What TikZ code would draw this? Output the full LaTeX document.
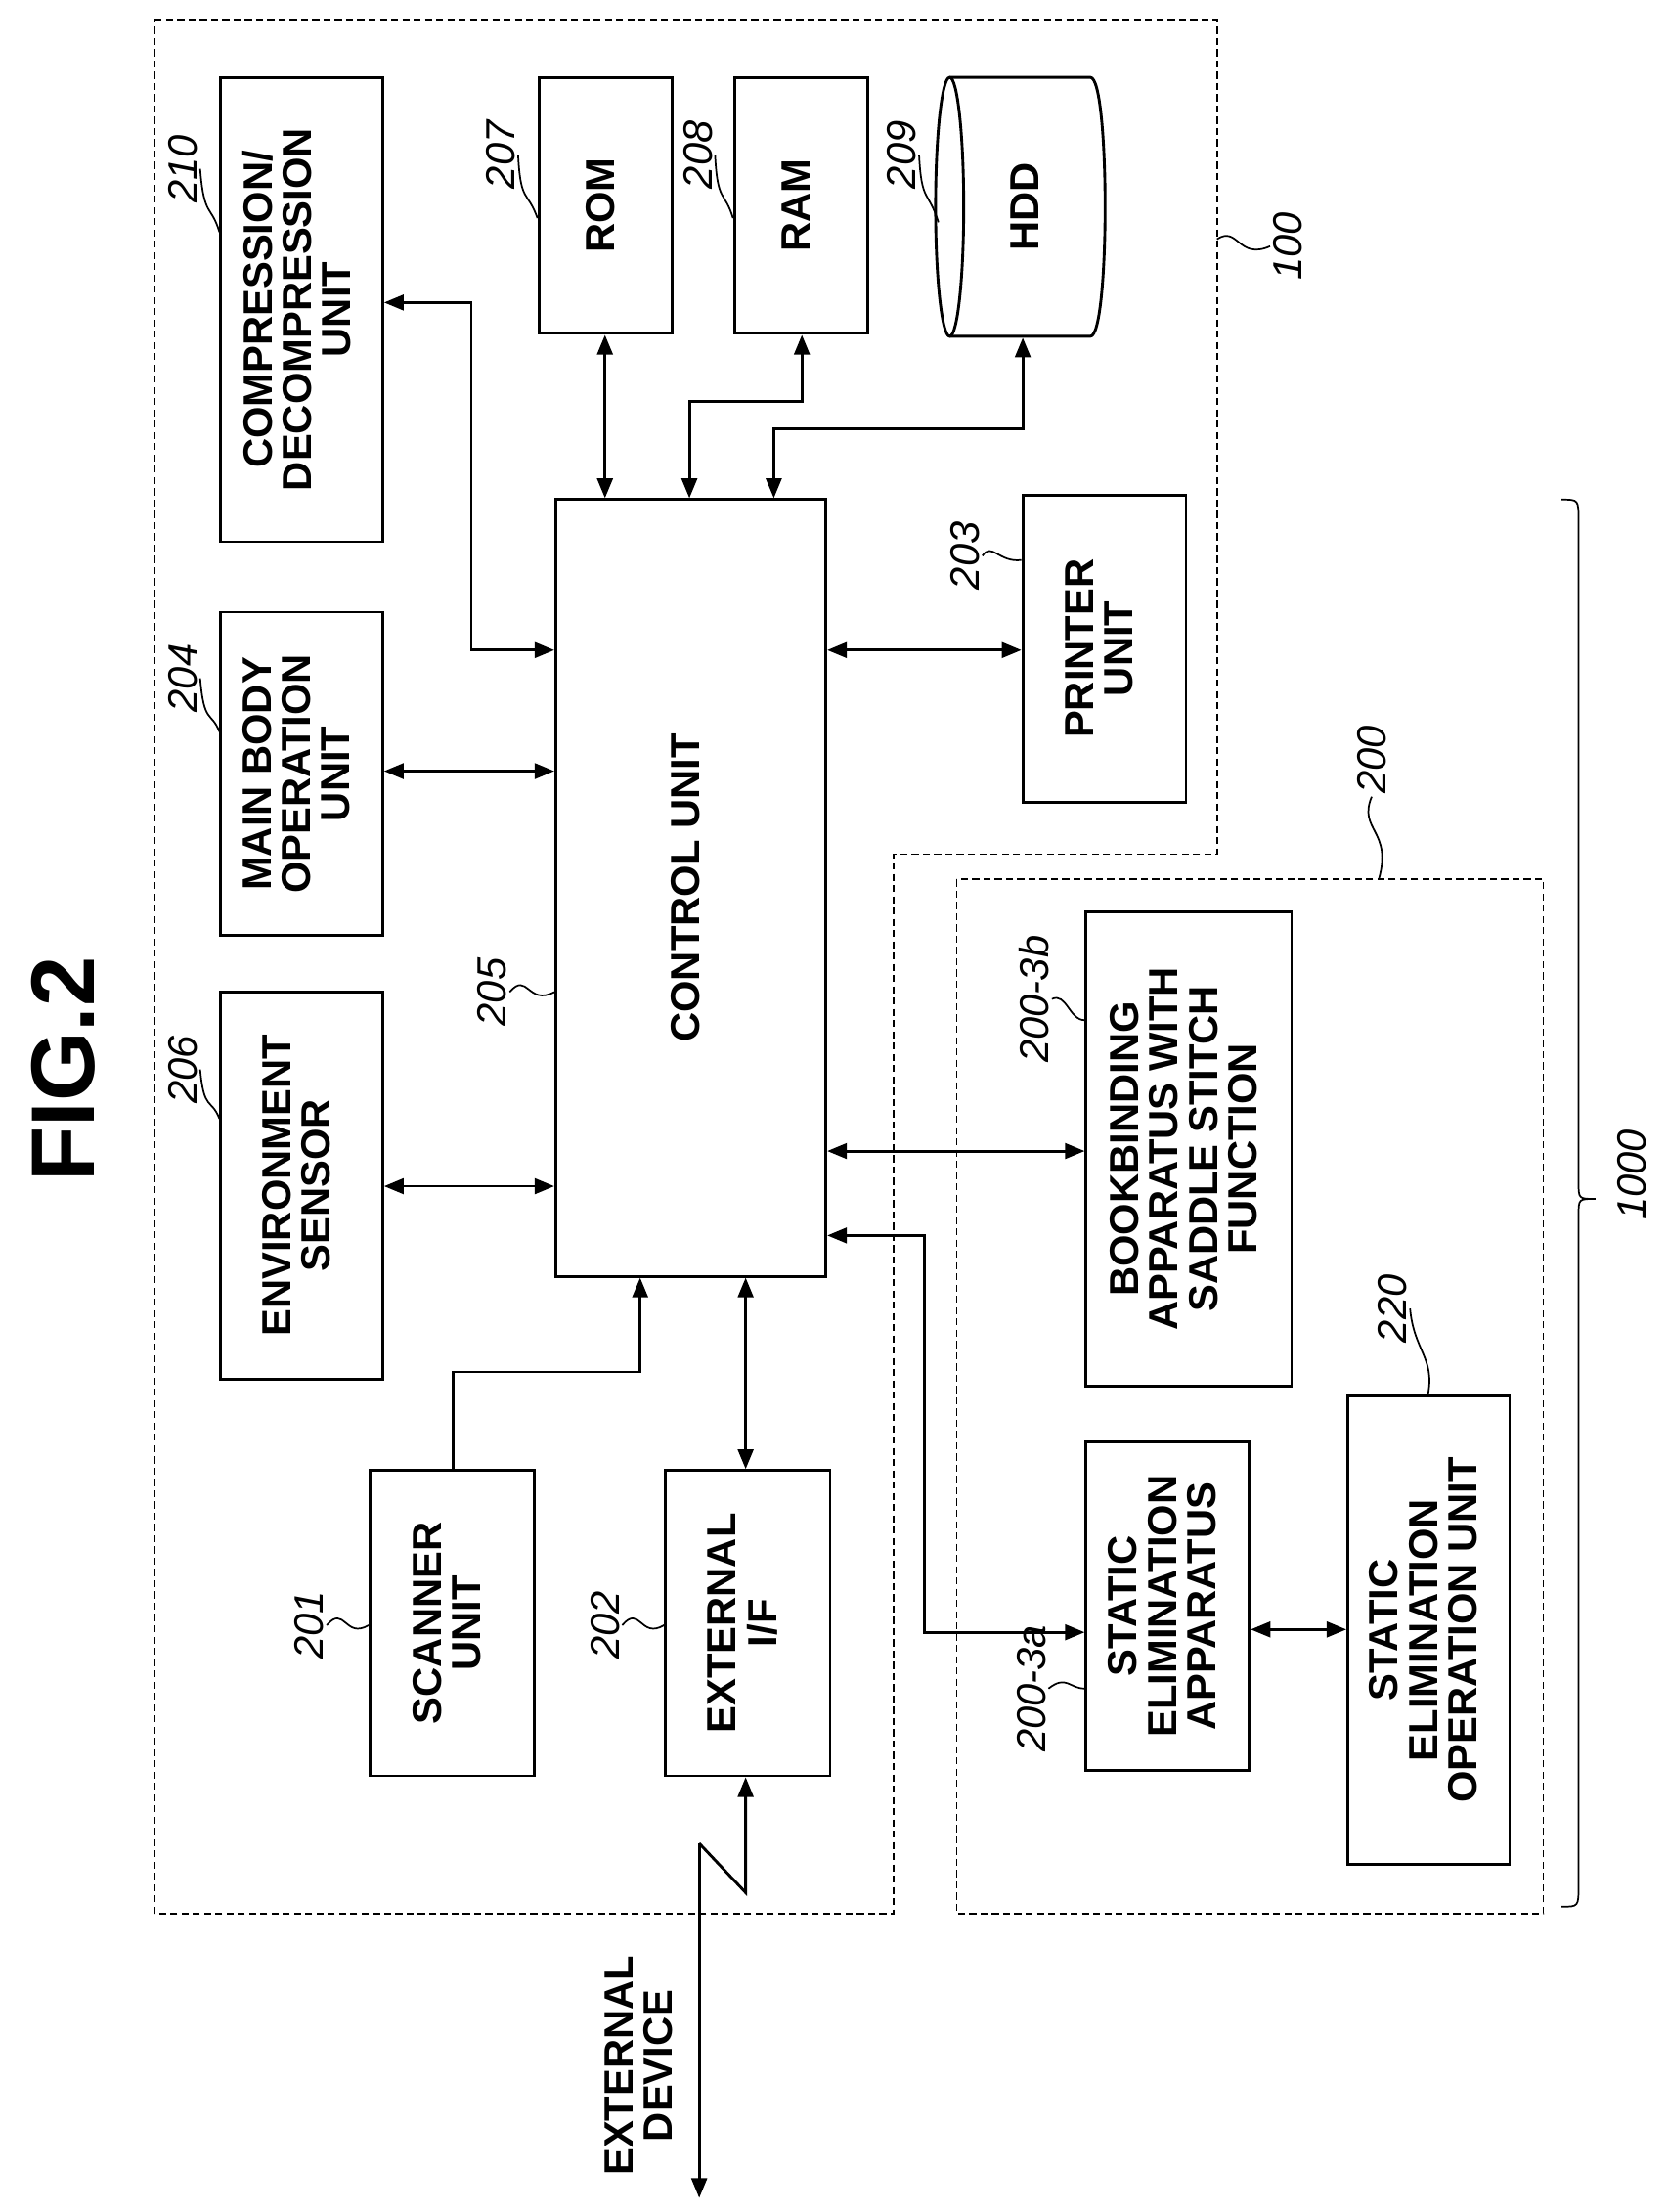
\documentclass[tikz,border=0pt]{standalone}
\usepackage{fontspec}
\setmainfont{Liberation Sans}
\usetikzlibrary{arrows.meta}
\begin{document}
\begin{tikzpicture}[x=1pt,y=-1pt,line width=2pt,
 box/.style={draw,rectangle,inner sep=0pt,font=\fontsize{29}{26}\selectfont\bfseries},
 lab/.style={font=\fontsize{29}{29}\selectfont\itshape,rotate=90,inner sep=1pt},
 dbl/.style={{Triangle[length=14,width=11]}-{Triangle[length=14,width=11]}},
 sgl/.style={-{Triangle[length=14,width=11]}},
 dfr/.style={line width=1.2pt,dash pattern=on 5pt off 3pt},
 lead/.style={line width=1.2pt}]
\useasboundingbox (0,0) rectangle (1185,1572);
\newcommand{\rt}[1]{\rotatebox{90}{\begin{tabular}{@{}c@{}}#1\end{tabular}}}
\node[font=\fontsize{64}{64}\selectfont\bfseries,rotate=90] (title) at (45,760) {FIG.2};
% dashed frames
\draw[dfr] (110,14) -- (865,14) -- (865,607) -- (635,607) -- (635,1360) -- (110,1360) -- cycle;
\draw[dfr] (680,625) rectangle (1097,1360);
\draw[line width=1.2pt] (1110,355) .. controls (1122,355) .. (1122,370) -- (1122,840) .. controls (1122,852) .. (1134,852) .. controls (1122,852) .. (1122,864) -- (1122,1340) .. controls (1122,1355) .. (1110,1355);
\node[lab] (l1000) at (1160,835) {1000};
\node[lab] (l100) at (915,175) {100};
\draw[lead] (865,170) .. controls (880,160) and (880,185) .. (l100.north);
\node[lab] (l200) at (975,540) {200};
\draw[lead] (l200.west) .. controls (965,590) and (990,590) .. (980,625);
% boxes
\node[box,minimum width=115,minimum height=330] (cmp) at (214.5,220) {\rt{COMPRESSION/\\DECOMPRESSION\\UNIT}};
\node[box,minimum width=95,minimum height=182] (rom) at (430.5,146) {\rt{ROM}};
\node[box,minimum width=95,minimum height=182] (ram) at (569.5,146) {\rt{RAM}};
\draw (675,55) -- (775,55) .. controls (789,55) and (789,239) .. (775,239) -- (675,239);
\draw (675,147) ellipse (10 and 92);
\node[font=\fontsize{29}{26}\selectfont\bfseries] (hddt) at (732,147) {\rt{HDD}};
\node[box,minimum width=115,minimum height=230] (mbo) at (214.5,550) {\rt{MAIN BODY\\OPERATION\\UNIT}};
\node[box,minimum width=115,minimum height=275] (env) at (214.5,842.5) {\rt{ENVIRONMENT\\SENSOR}};
\node[box,minimum width=192,minimum height=552] (ctl) at (491,631) {\rt{CONTROL UNIT}};
\node[box,minimum width=116,minimum height=218] (prt) at (785,461) {\rt{PRINTER\\UNIT}};
\node[box,minimum width=117,minimum height=217] (scn) at (321.5,1153.5) {\rt{SCANNER\\UNIT}};
\node[box,minimum width=117,minimum height=217] (ext) at (531.5,1153.5) {\rt{EXTERNAL\\I/F}};
\node[box,minimum width=146,minimum height=337] (bkb) at (845,816.5) {\rt{BOOKBINDING\\APPARATUS WITH\\SADDLE STITCH\\FUNCTION}};
\node[box,minimum width=116,minimum height=233] (sea) at (830,1141.5) {\rt{STATIC\\ELIMINATION\\APPARATUS}};
\node[box,minimum width=115,minimum height=333] (seo) at (1015.5,1158.5) {\rt{STATIC\\ELIMINATION\\OPERATION UNIT}};
% connectors
\draw[dbl] (cmp.east |- 0,215) -- (335,215) -- (335,462) -- (ctl.west |- 0,462);
\draw[dbl] (mbo.east |- 0,548) -- (ctl.west |- 0,548);
\draw[dbl] (env.east |- 0,843) -- (ctl.west |- 0,843);
\draw[dbl] (rom.south -| 430,0) -- (ctl.north -| 430,0);
\draw[dbl] (ram.south -| 570,0) -- (570,285) -- (490,285) -- (ctl.north -| 490,0);
\draw[dbl] (727,240) -- (727,305) -- (550,305) -- (ctl.north -| 550,0);
\draw[dbl] (ctl.east |- 0,462) -- (prt.west |- 0,462);
\draw[dbl] (ctl.east |- 0,818) -- (bkb.west |- 0,818);
\draw[dbl] (ctl.east |- 0,878) -- (657,878) -- (657,1160) -- (sea.west |- 0,1160);
\draw[sgl] (scn.north -| 322,0) -- (322,975) -- (455,975) -- (ctl.south -| 455,0);
\draw[dbl] (ext.north -| 530,0) -- (ctl.south -| 530,0);
\draw[dbl] (sea.east |- 0,1158) -- (seo.west |- 0,1158);
\coordinate (xd) at (497,1562);
\draw[{Triangle[length=14,width=11]}-] (ext.south -| 530,0) -- (530,1345) -- (497,1310);
\draw[sgl] (497,1310) -- (xd);
\node[font=\fontsize{29}{26}\selectfont\bfseries] (xdt) at (458,1468) {\rt{EXTERNAL\\DEVICE}};
% labels
\node[lab] (l201) at (220,1155) {201};
\draw[lead] (l201.south) .. controls (245,1140) and (245,1165) .. (scn.west |- 0,1155);
\node[lab] (l202) at (430,1155) {202};
\draw[lead] (l202.south) .. controls (455,1140) and (455,1165) .. (ext.west |- 0,1155);
\node[lab] (l205) at (350,705) {205};
\draw[lead] (l205.south) .. controls (375,690) and (375,715) .. (ctl.west |- 0,705);
\node[lab] (l206) at (130,760) {206};
\draw[lead] (l206.south) .. controls (145,790) and (150,780) .. (env.west |- 0,795);
\node[lab] (l204) at (130,482) {204};
\draw[lead] (l204.south) .. controls (145,515) and (150,505) .. (mbo.west |- 0,520);
\node[lab] (l210) at (130,120) {210};
\draw[lead] (l210.south) .. controls (145,155) and (150,145) .. (cmp.west |- 0,165);
\node[lab] (l207) at (356,110) {207};
\draw[lead] (l207.south) .. controls (370,145) and (375,135) .. (rom.west |- 0,155);
\node[lab] (l208) at (496,110) {208};
\draw[lead] (l208.south) .. controls (510,145) and (515,135) .. (ram.west |- 0,155);
\node[lab] (l209) at (641,110) {209};
\draw[lead] (l209.south) .. controls (655,145) and (660,135) .. (667,158);
\node[lab] (l203) at (686,395) {203};
\draw[lead] (l203.south) .. controls (705,385) and (710,400) .. (prt.west |- 0,398);
\node[lab] (l3b) at (735,710) {200-3b};
\draw[lead] (l3b.south) .. controls (758,705) and (760,725) .. (bkb.west |- 0,725);
\node[lab] (l3a) at (733,1200) {200-3a};
\draw[lead] (l3a.south) .. controls (758,1190) and (760,1200) .. (sea.west |- 0,1200);
\node[lab] (l220) at (990,930) {220};
\draw[lead] (l220.south) .. controls (1005,960) and (1020,965) .. (seo.north -| 1015,0);
\end{tikzpicture}
\end{document}
